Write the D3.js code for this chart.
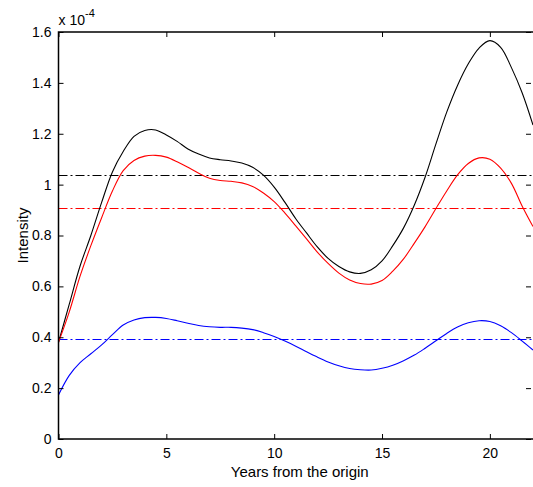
<!DOCTYPE html>
<html lang="en">
<head>
  <meta charset="UTF-8">
  <title>Intensity</title>
  <style>
    body { margin: 0; background: #fff; }
    svg text { font-family: "Liberation Sans", Arial, sans-serif; font-size: 14px; fill: #000; }
  </style>
</head>
<body>
  <div id="chart"></div>
  <script src="https://d3js.org/d3.v7.min.js"></script>
  <script>
    // years sampled every half year
    const years = [0, 0.5, 1, 1.5, 2, 2.5, 3, 3.5, 4, 4.5, 5, 5.5, 6, 6.5, 7, 7.5, 8, 8.5, 9, 9.5, 10,
                   10.5, 11, 11.5, 12, 12.5, 13, 13.5, 14, 14.5, 15, 15.5, 16, 16.5, 17, 17.5, 18,
                   18.5, 19, 19.5, 20, 20.5, 21, 21.5, 22];

    // intensity, in units of 1e-4
    const blackVals = [0.38, 0.53, 0.68, 0.80, 0.93, 1.05, 1.13, 1.19, 1.213, 1.215, 1.195, 1.17, 1.14,
                       1.12, 1.105, 1.098, 1.093, 1.085, 1.068, 1.037, 0.99, 0.93, 0.866, 0.81, 0.755,
                       0.71, 0.678, 0.657, 0.651, 0.665, 0.70, 0.76, 0.83, 0.92, 1.03, 1.16, 1.285,
                       1.39, 1.475, 1.537, 1.566, 1.54, 1.46, 1.36, 1.234];
    const redVals = [0.38, 0.50, 0.64, 0.76, 0.87, 0.975, 1.055, 1.095, 1.112, 1.115, 1.108, 1.09, 1.068,
                     1.045, 1.025, 1.016, 1.013, 1.007, 0.993, 0.967, 0.933, 0.888, 0.838, 0.787, 0.735,
                     0.69, 0.652, 0.625, 0.611, 0.609, 0.623, 0.66, 0.708, 0.77, 0.835, 0.906, 0.975,
                     1.038, 1.083, 1.105, 1.10, 1.065, 1.005, 0.915, 0.835];
    const blueVals = [0.173, 0.25, 0.30, 0.335, 0.37, 0.41, 0.448, 0.468, 0.477, 0.478, 0.474, 0.465, 0.455,
                      0.446, 0.441, 0.439, 0.439, 0.436, 0.43, 0.418, 0.403, 0.385, 0.365, 0.343, 0.322,
                      0.303, 0.288, 0.277, 0.272, 0.271, 0.278, 0.29, 0.308, 0.33, 0.357, 0.386, 0.415,
                      0.44, 0.457, 0.465, 0.462, 0.445, 0.418, 0.385, 0.35];

    const meanVals = [1.038, 0.907, 0.392];
    const colors = ['#000000', '#ff0000', '#0000ff'];

    const xTicks = [0, 5, 10, 15, 20];
    const yTicks = [0, 0.2, 0.4, 0.6, 0.8, 1, 1.2, 1.4, 1.6];

    const width = 533, height = 487;
    const mLeft = 58.5, mRight = 533, mTop = 32, mBottom = 439;

    const svg = d3.select('#chart').append('svg')
      .attr('width', width)
      .attr('height', height);

    const x = d3.scaleLinear().domain([0, 22]).range([mLeft, mRight]);
    const y = d3.scaleLinear().domain([0, 1.6]).range([mBottom, mTop]);

    svg.append('clipPath').attr('id', 'clip')
      .append('rect')
      .attr('x', mLeft).attr('y', mTop)
      .attr('width', mRight - mLeft).attr('height', mBottom - mTop);

    const plot = svg.append('g').attr('clip-path', 'url(#clip)');

    // mean lines (dash-dot)
    meanVals.forEach((m, i) => {
      plot.append('line')
        .attr('x1', x(0)).attr('x2', x(22))
        .attr('y1', Math.round(y(m)) + 0.5).attr('y2', Math.round(y(m)) + 0.5)
        .attr('stroke', colors[i])
        .attr('stroke-width', 1)
        .attr('stroke-dasharray', '9,3,2,3');
    });

    const line = d3.line()
      .x((d, i) => x(years[i]))
      .y(d => y(d))
      .curve(d3.curveCatmullRom);

    [blackVals, redVals, blueVals].forEach((vals, i) => {
      plot.append('path')
        .datum(vals)
        .attr('d', line)
        .attr('fill', 'none')
        .attr('stroke', colors[i])
        .attr('stroke-width', 1.1);
    });

    // axes, MATLAB style: ticks inside, box on
    const tickLen = 5;
    svg.append('g')
      .attr('transform', `translate(0,${mBottom})`)
      .call(d3.axisBottom(x).tickValues(xTicks).tickSizeInner(-tickLen).tickSizeOuter(0).tickPadding(9).tickFormat(d3.format('d')))
      .call(g => g.select('.domain').remove());
    svg.append('g')
      .attr('transform', `translate(0,${mTop})`)
      .call(d3.axisTop(x).tickValues(xTicks).tickSizeInner(-tickLen).tickSizeOuter(0).tickFormat(''))
      .call(g => g.select('.domain').remove());
    svg.append('g')
      .attr('transform', `translate(${mLeft},0)`)
      .call(d3.axisLeft(y).tickValues(yTicks).tickSizeInner(-tickLen).tickSizeOuter(0).tickPadding(7)
        .tickFormat(d => d === 0 ? '0' : d3.format('.1f')(d).replace(/\.0$/, '')))
      .call(g => g.select('.domain').remove());
    svg.append('g')
      .attr('transform', `translate(${mRight - 2},0)`)
      .call(d3.axisRight(y).tickValues(yTicks).tickSizeInner(-tickLen).tickSizeOuter(0).tickFormat(''))
      .call(g => g.select('.domain').remove());

    svg.selectAll('.tick line').attr('stroke', '#000');
    svg.selectAll('.tick text').style('font-size', '14px').style('font-family', '"Liberation Sans", Arial, sans-serif');

    svg.append('rect')
      .attr('x', mLeft).attr('y', mTop)
      .attr('width', mRight - mLeft + 2).attr('height', mBottom - mTop)
      .attr('fill', 'none')
      .attr('stroke', '#000')
      .attr('stroke-width', 1.5);

    // exponent label
    const expo = svg.append('text').attr('x', mLeft).attr('y', 25);
    expo.append('tspan').text('x 10');
    expo.append('tspan').attr('dy', -8).style('font-size', '11px').text('-4');

    svg.append('text')
      .attr('x', (mLeft + mRight) / 2 + 4)
      .attr('y', 477)
      .attr('text-anchor', 'middle')
      .style('font-size', '15px')
      .text('Years from the origin');

    svg.append('text')
      .attr('transform', `translate(28,${(mTop + mBottom) / 2}) rotate(-90)`)
      .attr('text-anchor', 'middle')
      .style('font-size', '15px')
      .text('Intensity');
  </script>
</body>
</html>
